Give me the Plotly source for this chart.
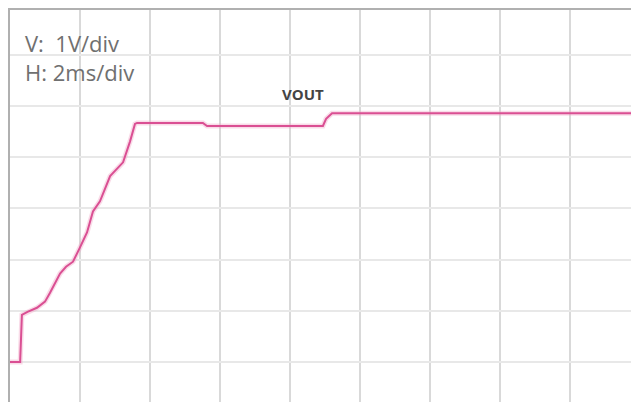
import plotly.graph_objects as go

# Time (ms) and voltage (V) read from the scope capture (2 ms/div, 1 V/div)
t_ms = [0.0, 0.29, 0.34, 0.50, 0.77, 1.00, 1.14, 1.43, 1.60, 1.80, 2.00, 2.20, 2.37,
        2.57, 2.86, 3.10, 3.23, 3.43, 3.57, 3.63, 4.50, 5.51, 5.63, 7.0, 8.94, 9.03,
        9.20, 12.0, 15.0, 17.97]
v_volts = [0.0, 0.0, 0.92, 0.98, 1.06, 1.18, 1.35, 1.73, 1.86, 1.96, 2.24, 2.53, 2.94,
           3.14, 3.63, 3.80, 3.90, 4.31, 4.65, 4.67, 4.67, 4.67, 4.61, 4.61, 4.61, 4.75,
           4.86, 4.86, 4.86, 4.86]

label_scale = ["V:  1V/div", "H: 2ms/div"]
label_trace = "VOUT"

# the page body adds an 8 px offset; figure is sized to fill the rest of the window
W, H = 631, 394

fig = go.Figure()
fig.add_trace(go.Scatter(x=t_ms, y=v_volts, mode="lines",
                         line=dict(color="rgba(240,165,198,0.4)", width=5),
                         hoverinfo="skip", showlegend=False))
fig.add_trace(go.Scatter(x=t_ms, y=v_volts, mode="lines",
                         line=dict(color="#da4f93", width=2),
                         showlegend=False))

def px(x):
    return (x - 10) / 629

def py(y):
    return (402 - y) / 392

fig.update_layout(
    width=W, height=H,
    margin=dict(l=2, r=0, t=2, b=0, pad=0),
    paper_bgcolor="white", plot_bgcolor="white",
    font=dict(family="Open Sans", color="#666"),
    xaxis=dict(range=[0, 17.97], dtick=2, tick0=0, showgrid=True,
               gridcolor="#d9d9d9", gridwidth=1.5, showticklabels=False,
               zeroline=False, showline=True, linecolor="#b0b0b0", linewidth=2,
               side="top", ticks=""),
    yaxis=dict(range=[-0.78, 6.875], dtick=1, tick0=0, showgrid=True,
               gridcolor="#e8e8e8", gridwidth=1.5, showticklabels=False,
               zeroline=False, showline=True, linecolor="#b0b0b0", linewidth=2,
               ticks=""),
    annotations=[
        dict(text=label_scale[0], xref="paper", yref="paper", x=px(23),
             y=py(43), xanchor="left", yanchor="middle",
             showarrow=False, font=dict(size=22, color="#707070")),
        dict(text=label_scale[1], xref="paper", yref="paper", x=px(23),
             y=py(72), xanchor="left", yanchor="middle",
             showarrow=False, font=dict(size=22, color="#707070")),
        dict(text="<b>" + label_trace + "</b>", xref="paper", yref="paper",
             x=px(303), y=py(94), xanchor="center",
             yanchor="middle", showarrow=False,
             font=dict(size=15, color="#444")),
    ],
)

fig.write_html("out.html")
